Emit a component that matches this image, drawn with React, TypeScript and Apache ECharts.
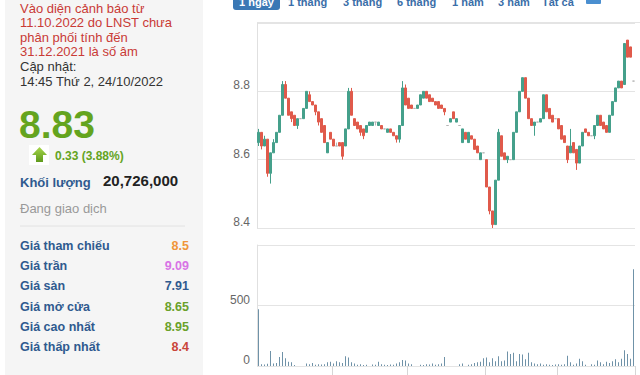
import React, { useEffect, useRef } from "react";
import * as echarts from "echarts";

// [open, close, low, high]
const candles: number[][] = [
  [8.65, 8.68, 8.64, 8.69], [8.68, 8.64, 8.63, 8.68], [8.64, 8.66, 8.64, 8.67], [8.66, 8.56, 8.55, 8.66],
  [8.56, 8.62, 8.53, 8.62], [8.62, 8.65, 8.62, 8.66], [8.65, 8.68, 8.65, 8.68], [8.68, 8.73, 8.68, 8.73],
  [8.73, 8.82, 8.73, 8.83], [8.82, 8.78, 8.78, 8.83], [8.78, 8.73, 8.73, 8.78], [8.74, 8.72, 8.71, 8.74],
  [8.73, 8.70, 8.70, 8.73], [8.70, 8.72, 8.69, 8.72], [8.72, 8.72, 8.72, 8.72], [8.72, 8.75, 8.72, 8.75],
  [8.75, 8.80, 8.75, 8.80], [8.79, 8.77, 8.77, 8.80], [8.77, 8.76, 8.76, 8.77], [8.76, 8.74, 8.73, 8.76],
  [8.74, 8.71, 8.70, 8.74], [8.72, 8.68, 8.68, 8.72], [8.70, 8.65, 8.65, 8.70], [8.62, 8.65, 8.62, 8.65],
  [8.68, 8.66, 8.66, 8.68], [8.66, 8.64, 8.64, 8.66], [8.64, 8.64, 8.64, 8.65], [8.65, 8.64, 8.64, 8.65],
  [8.65, 8.61, 8.60, 8.65], [8.64, 8.69, 8.64, 8.69], [8.69, 8.80, 8.69, 8.81], [8.80, 8.73, 8.73, 8.81],
  [8.72, 8.70, 8.70, 8.72], [8.71, 8.69, 8.69, 8.71], [8.70, 8.68, 8.67, 8.70], [8.69, 8.67, 8.66, 8.69],
  [8.68, 8.70, 8.68, 8.70], [8.70, 8.71, 8.70, 8.71], [8.70, 8.71, 8.70, 8.71], [8.71, 8.71, 8.70, 8.71],
  [8.70, 8.71, 8.70, 8.71], [8.70, 8.69, 8.69, 8.70], [8.69, 8.69, 8.69, 8.69], [8.68, 8.69, 8.68, 8.69],
  [8.69, 8.68, 8.68, 8.69], [8.68, 8.67, 8.67, 8.68], [8.67, 8.66, 8.65, 8.67], [8.66, 8.70, 8.65, 8.70],
  [8.70, 8.81, 8.70, 8.83], [8.81, 8.76, 8.76, 8.82], [8.78, 8.75, 8.75, 8.78], [8.76, 8.75, 8.75, 8.76],
  [8.75, 8.75, 8.75, 8.75], [8.75, 8.76, 8.75, 8.76], [8.76, 8.79, 8.76, 8.79], [8.78, 8.80, 8.78, 8.80],
  [8.80, 8.78, 8.78, 8.80], [8.79, 8.77, 8.77, 8.79], [8.78, 8.77, 8.77, 8.78], [8.77, 8.76, 8.76, 8.77],
  [8.77, 8.75, 8.75, 8.77], [8.76, 8.75, 8.75, 8.76], [8.75, 8.74, 8.73, 8.75], [8.70, 8.70, 8.70, 8.70],
  [8.71, 8.72, 8.71, 8.72], [8.74, 8.72, 8.72, 8.74], [8.71, 8.72, 8.71, 8.72], [8.70, 8.70, 8.70, 8.70],
  [8.65, 8.69, 8.65, 8.69], [8.68, 8.66, 8.66, 8.68], [8.65, 8.68, 8.65, 8.68], [8.67, 8.66, 8.66, 8.67],
  [8.66, 8.63, 8.63, 8.66], [8.64, 8.62, 8.62, 8.64], [8.60, 8.62, 8.60, 8.62], [8.62, 8.62, 8.62, 8.62],
  [8.60, 8.52, 8.52, 8.60], [8.52, 8.45, 8.44, 8.52], [8.45, 8.41, 8.40, 8.45], [8.41, 8.54, 8.41, 8.54],
  [8.54, 8.68, 8.54, 8.69], [8.67, 8.61, 8.61, 8.67], [8.62, 8.60, 8.60, 8.62], [8.60, 8.61, 8.59, 8.61],
  [8.60, 8.60, 8.60, 8.60], [8.60, 8.68, 8.60, 8.68], [8.68, 8.74, 8.68, 8.74], [8.74, 8.80, 8.74, 8.80],
  [8.80, 8.84, 8.80, 8.84], [8.84, 8.78, 8.78, 8.84], [8.78, 8.72, 8.72, 8.78], [8.72, 8.70, 8.70, 8.72],
  [8.70, 8.71, 8.67, 8.71], [8.71, 8.71, 8.71, 8.71], [8.71, 8.72, 8.71, 8.72], [8.72, 8.79, 8.72, 8.79],
  [8.79, 8.74, 8.74, 8.79], [8.75, 8.72, 8.72, 8.75], [8.73, 8.71, 8.71, 8.73], [8.72, 8.72, 8.72, 8.72],
  [8.72, 8.69, 8.69, 8.72], [8.70, 8.66, 8.66, 8.70], [8.67, 8.65, 8.65, 8.67], [8.64, 8.60, 8.59, 8.64],
  [8.62, 8.64, 8.62, 8.69], [8.65, 8.62, 8.62, 8.65], [8.63, 8.59, 8.57, 8.63], [8.59, 8.64, 8.59, 8.64],
  [8.64, 8.68, 8.64, 8.68], [8.69, 8.68, 8.68, 8.69], [8.68, 8.67, 8.67, 8.68], [8.67, 8.67, 8.67, 8.67],
  [8.67, 8.70, 8.66, 8.70], [8.70, 8.73, 8.70, 8.73], [8.73, 8.70, 8.70, 8.73], [8.71, 8.69, 8.69, 8.71],
  [8.70, 8.68, 8.68, 8.70], [8.68, 8.73, 8.68, 8.73], [8.73, 8.77, 8.73, 8.77], [8.77, 8.81, 8.77, 8.81],
  [8.81, 8.83, 8.81, 8.83], [8.83, 8.81, 8.81, 8.83], [8.82, 8.94, 8.82, 8.94], [8.95, 8.90, 8.90, 8.95],
  [8.93, 8.90, 8.90, 8.93], [8.83, 8.83, 8.83, 8.83],
];

const volumes: number[] = [
  470, 15, 12, 18, 125, 20, 25, 75, 115, 65, 35, 30, 8, 0, 0, 0,
  20, 15, 25, 10, 15, 12, 15, 30, 35, 20, 40, 30, 25, 80, 70, 30,
  20, 10, 15, 8, 10, 0, 12, 10, 35, 15, 10, 8, 12, 10, 20, 30,
  50, 45, 20, 15, 0, 0, 10, 8, 15, 12, 20, 10, 15, 20, 75, 0,
  0, 0, 0, 15, 20, 0, 10, 15, 25, 30, 35, 65, 70, 30, 65, 40,
  80, 40, 45, 120, 100, 110, 40, 100, 95, 55, 110, 30, 20, 15, 20, 10,
  15, 10, 8, 12, 15, 10, 15, 85, 30, 10, 20, 60, 40, 10, 0, 15,
  10, 45, 30, 15, 35, 25, 40, 55, 30, 60, 130, 100, 60, 800,
];

const priceTicks = { min: 8.4, max: 9.0, interval: 0.2 };
const volumeTicks = { min: 0, max: 1000, interval: 500 };
const timeTickIndices = [25, 50, 76, 100];

const tabs = ["1 tháng", "3 tháng", "6 tháng", "1 năm", "3 năm", "Tất cả"];
const tabX = [288, 343, 397, 452, 498, 542];

const warningLines = [
  "Vào diện cảnh báo từ",
  "11.10.2022 do LNST chưa",
  "phân phối tính đến",
  "31.12.2021 là số âm",
];

const priceRowLabels = ["Giá tham chiếu", "Giá trần", "Giá sàn", "Giá mở cửa", "Giá cao nhất", "Giá thấp nhất"];
const priceRowValues = ["8.5", "9.09", "7.91", "8.65", "8.95", "8.4"];
const priceRowColors = ["#f0953a", "#d873e6", "#2f5a8f", "#6aa12a", "#6aa12a", "#c9453a"];

const FONT = "'Liberation Sans', Arial, Helvetica, sans-serif";

export default function App() {
  const ref = useRef<HTMLDivElement>(null);

  useEffect(() => {
    if (!ref.current) return;
    const chart = echarts.init(ref.current, undefined, { renderer: "svg" });
    const cats = candles.map((_, i) => String(i));

    const graphics: any[] = [];
    graphics.push({ type: "rect", shape: { x: 5, y: 0, width: 198, height: 375 }, style: { fill: "#f5f5f5" }, z: 0 });
    warningLines.forEach((t, i) => {
      graphics.push({
        type: "text", x: 20, y: 8 + i * 14.6,
        style: { text: t, fill: "#c93a36", font: `13px ${FONT}`, verticalAlign: "middle" },
      });
    });
    graphics.push({ type: "text", x: 20, y: 66, style: { text: "Cập nhật:", fill: "#333", font: `13px ${FONT}`, verticalAlign: "middle" } });
    graphics.push({ type: "text", x: 20, y: 81, style: { text: "14:45 Thứ 2, 24/10/2022", fill: "#333", font: `13px ${FONT}`, verticalAlign: "middle" } });
    graphics.push({ type: "text", x: 19, y: 124, style: { text: "8.83", fill: "#64a41e", font: `bold 39px ${FONT}`, verticalAlign: "middle" } });
    graphics.push({ type: "rect", shape: { x: 29, y: 145, width: 20, height: 20 }, style: { fill: "#ffffff" } });
    graphics.push({
      type: "polygon",
      shape: { points: [[39.5, 147], [47, 155], [43, 155], [43, 162], [36, 162], [36, 155], [32, 155]] },
      style: {
        fill: new echarts.graphic.LinearGradient(0, 0, 0, 1, [
          { offset: 0, color: "#a6d64a" },
          { offset: 1, color: "#5f9a1c" },
        ]),
      },
    });
    graphics.push({ type: "text", x: 55, y: 156, style: { text: "0.33 (3.88%)", fill: "#64a41e", font: `bold 12px ${FONT}`, verticalAlign: "middle" } });
    graphics.push({ type: "text", x: 20, y: 182, style: { text: "Khối lượng", fill: "#2f5a8f", font: `bold 13px ${FONT}`, verticalAlign: "middle" } });
    graphics.push({ type: "text", x: 103, y: 180, style: { text: "20,726,000", fill: "#222", font: `bold 15px ${FONT}`, verticalAlign: "middle" } });
    graphics.push({ type: "text", x: 20, y: 208, style: { text: "Đang giao dịch", fill: "#999", font: `13px ${FONT}`, verticalAlign: "middle" } });
    graphics.push({ type: "line", shape: { x1: 20, y1: 226, x2: 185, y2: 226 }, style: { stroke: "#e2e2e2", lineWidth: 1 } });
    const rowY = [246, 266, 286, 307, 327, 347];
    priceRowLabels.forEach((t, i) => {
      graphics.push({ type: "text", x: 20, y: rowY[i], style: { text: t, fill: "#2f5a8f", font: `bold 12.5px ${FONT}`, verticalAlign: "middle" } });
      graphics.push({ type: "text", x: 189, y: rowY[i], style: { text: priceRowValues[i], fill: priceRowColors[i], font: `bold 12.5px ${FONT}`, verticalAlign: "middle", align: "right" } });
    });
    graphics.push({ type: "text", x: 20, y: 380, style: { text: "Đơn vị giá: 1000 VND", fill: "#999", font: `12px ${FONT}`, verticalAlign: "middle" } });

    // tabs
    graphics.push({ type: "rect", shape: { x: 233, y: -6, width: 47, height: 16, r: 3 }, style: { fill: "#3a78b5" } });
    graphics.push({ type: "text", x: 256.5, y: 2, style: { text: "1 ngày", fill: "#fff", font: `bold 11px ${FONT}`, verticalAlign: "middle", align: "center" } });
    tabs.forEach((t, i) => {
      graphics.push({ type: "text", x: tabX[i], y: 2, style: { text: t, fill: "#3a6ea8", font: `bold 11px ${FONT}`, verticalAlign: "middle" } });
    });
    graphics.push({ type: "rect", shape: { x: 586, y: -4, width: 15, height: 8, r: 1 }, style: { fill: "#4a8fd0" } });
    graphics.push({ type: "line", shape: { x1: 257, y1: 22.5, x2: 640, y2: 22.5 }, style: { stroke: "#e4e4e4", lineWidth: 1 } });

    const axisLabelStyle = {
      color: "#666",
      fontSize: 12,
      fontFamily: FONT,
      margin: 7,
      verticalAlign: "bottom" as const,
      showMaxLabel: false,
    };

    chart.setOption({
      animation: false,
      backgroundColor: "#ffffff",
      grid: [
        { left: 257, top: 23, width: 378, height: 205 },
        { left: 257, top: 245, width: 378, height: 121 },
      ],
      xAxis: [
        {
          type: "category", gridIndex: 0, data: cats, boundaryGap: true,
          axisLine: { show: false }, axisTick: { show: false }, axisLabel: { show: false }, splitLine: { show: false },
        },
        {
          type: "category", gridIndex: 1, data: cats, boundaryGap: true,
          axisLine: { show: false },
          axisTick: {
            show: true, length: 12,
            interval: (idx: number) => timeTickIndices.includes(idx),
            lineStyle: { color: "#d6d6d6" },
          },
          axisLabel: { show: false }, splitLine: { show: false },
        },
      ],
      yAxis: [
        {
          type: "value", gridIndex: 0, min: priceTicks.min, max: priceTicks.max, interval: priceTicks.interval,
          axisLine: { show: true, lineStyle: { color: "#e0e0e0" } },
          axisTick: { show: false },
          splitLine: { show: true, lineStyle: { color: "#e4e4e4" } },
          axisLabel: { ...axisLabelStyle, formatter: (v: number) => v.toFixed(1) },
        },
        {
          type: "value", gridIndex: 1, min: volumeTicks.min, max: volumeTicks.max, interval: volumeTicks.interval,
          axisLine: { show: true, lineStyle: { color: "#e0e0e0" } },
          axisTick: { show: false },
          splitLine: { show: true, lineStyle: { color: "#e4e4e4" } },
          axisLabel: { ...axisLabelStyle },
        },
      ],
      series: [
        {
          type: "candlestick", xAxisIndex: 0, yAxisIndex: 0, data: candles, barWidth: "85%",
          itemStyle: {
            color: "#45a08b", color0: "#e05a4b",
            borderColor: "#45a08b", borderColor0: "#e05a4b",
            borderColorDoji: "#b5b5b5", borderWidth: 1,
          },
        },
        {
          type: "bar", xAxisIndex: 1, yAxisIndex: 1, data: volumes, barWidth: 1,
          itemStyle: { color: "#6f92a8" },
        },
      ],
      graphic: graphics,
    });

    return () => chart.dispose();
  }, []);

  return (
    <div
      ref={ref}
      style={{ position: "fixed", left: 0, top: 0, width: 640, height: 375 }}
    />
  );
}
